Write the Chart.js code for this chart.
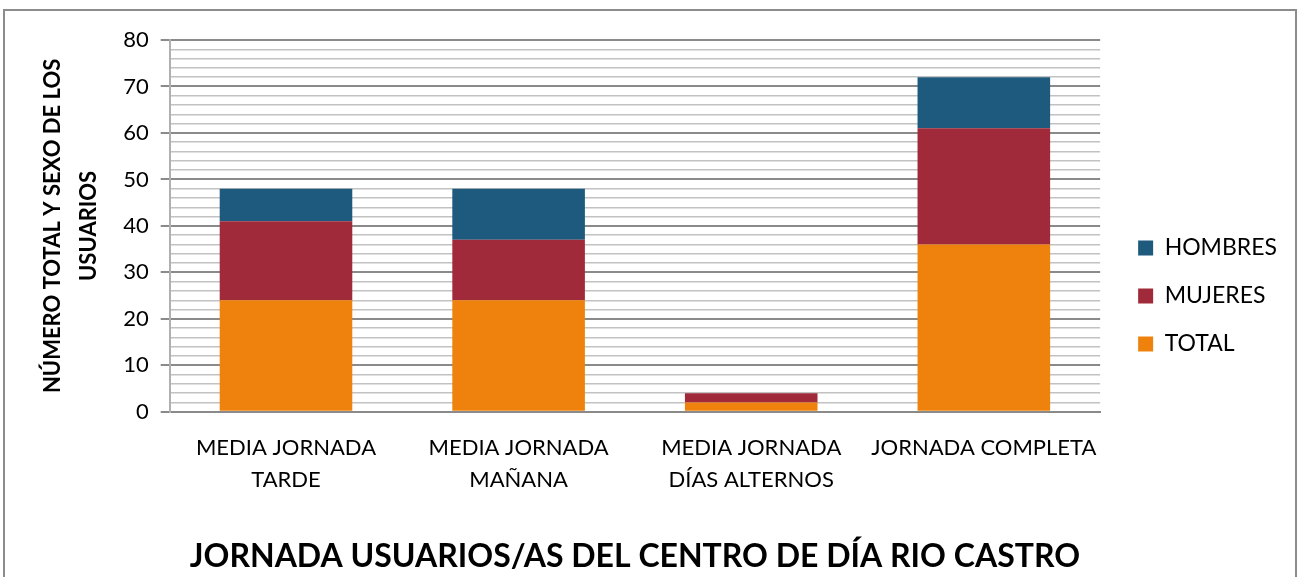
<!DOCTYPE html>
<html>
<head>
<meta charset="utf-8">
<script src="https://cdn.jsdelivr.net/npm/chart.js@4/dist/chart.umd.min.js"></script>
<style>
  html, body { margin: 0; padding: 0; background: #fff; }
  #frame { position: absolute; left: 3px; top: 9px; width: 1294px; height: 600px; border: 2px solid #8c8c8c; box-sizing: border-box; }
  #wrap { position: absolute; left: 0; top: 0; width: 1301px; height: 577px; }
</style>
</head>
<body>
<div id="frame"></div>
<div id="wrap"><canvas id="c" width="1301" height="577"></canvas></div>
<script>
// --- Data ---
const categories = [['MEDIA JORNADA', 'TARDE'], ['MEDIA JORNADA', 'MAÑANA'], ['MEDIA JORNADA', 'DÍAS ALTERNOS'], 'JORNADA COMPLETA'];
const total_vals = [24, 24, 2, 36];
const mujeres_vals = [17, 13, 2, 25];
const hombres_vals = [7, 11, 0, 11];
const y_ticks = [0, 10, 20, 30, 40, 50, 60, 70, 80];

const font_family = 'Lato, "Open Sans", sans-serif';
const is_major = ctx => ctx.tick && ctx.tick.value % 10 === 0;

// move the right-hand legend a bit up and to the right, as in the original
const legend_nudge = {
  id: 'legend_nudge',
  afterLayout(chart) {
    const lg = chart.legend;
    if (!lg) return;
    lg.top -= 12; lg.bottom -= 12;
    lg.left += 13; lg.right += 13;
  }
};

// --- Chart ---
new Chart(document.getElementById('c'), {
  type: 'bar',
  data: {
    labels: categories,
    datasets: [
      { label: 'TOTAL', data: total_vals, backgroundColor: '#ef820d' },
      { label: 'MUJERES', data: mujeres_vals, backgroundColor: '#a12a3a' },
      { label: 'HOMBRES', data: hombres_vals, backgroundColor: '#1d5a7e' }
    ]
  },
  plugins: [legend_nudge],
  options: {
    responsive: false,
    animation: false,
    devicePixelRatio: 1,
    layout: { padding: { left: 35, right: 27, top: 40, bottom: 1 } },
    datasets: { bar: { barPercentage: 0.57, categoryPercentage: 1 } },
    plugins: {
      tooltip: { enabled: false },
      legend: {
        position: 'right',
        reverse: true,
        labels: {
          color: '#000',
          font: { family: font_family, size: 23 },
          boxWidth: 15, boxHeight: 15,
          padding: 25
        }
      }
    },
    scales: {
      x: {
        stacked: true,
        grid: { display: false, drawTicks: false },
        border: { color: '#8a8a8a', width: 2 },
        ticks: {
          color: '#000',
          font: { family: font_family, size: 22, lineHeight: 1.45 },
          padding: 20,
          autoSkip: false,
          maxRotation: 0,
          minRotation: 0
        },
        title: {
          display: true,
          text: 'JORNADA USUARIOS/AS DEL CENTRO DE DÍA RIO CASTRO',
          color: '#000',
          font: { family: font_family, size: 32, weight: 'bold' },
          padding: { top: 22, bottom: 0 }
        }
      },
      y: {
        stacked: true,
        min: 0, max: 80,
        ticks: {
          stepSize: 2,
          color: '#000',
          font: { family: font_family, size: 22 },
          padding: 12,
          autoSkip: false,
          callback: v => (y_ticks.includes(v) ? String(v) : '')
        },
        grid: {
          color: ctx => (is_major(ctx) ? '#8a8a8a' : '#c2c2c2'),
          lineWidth: ctx => (is_major(ctx) ? 2 : 1.5),
          tickColor: ctx => (is_major(ctx) ? '#8a8a8a' : 'rgba(0,0,0,0)'),
          tickLength: 9
        },
        border: { color: '#b0b0b0', width: 2 },
        title: {
          display: true,
          text: ['NÚMERO TOTAL Y SEXO DE LOS', 'USUARIOS'],
          color: '#000',
          font: { family: font_family, size: 22, weight: 'bold', lineHeight: 1.64 },
          padding: { top: 0, bottom: 4 }
        }
      }
    }
  }
});
</script>
</body>
</html>
